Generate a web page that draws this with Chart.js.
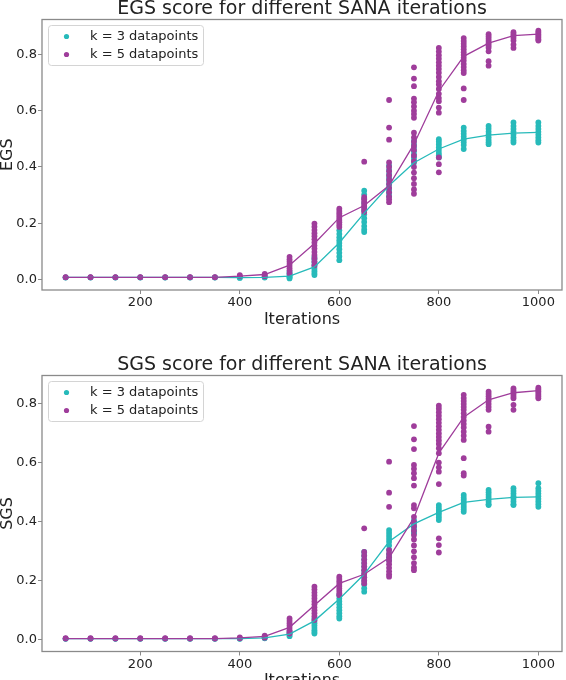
<!DOCTYPE html>
<html>
<head>
<meta charset="utf-8">
<script src="https://cdn.jsdelivr.net/npm/chart.js@4"></script>
<style>
html,body{margin:0;padding:0;background:#fff;overflow:hidden;}
#wrap{position:relative;width:566px;height:680px;overflow:hidden;}
canvas{position:absolute;left:0;}
#egs{top:0;}
#sgs{top:340px;}
</style>
</head>
<body>
<div id="wrap">
<canvas id="egs" width="566" height="340"></canvas>
<canvas id="sgs" width="566" height="360"></canvas>
</div>
<script>
// SANA iterations on the x axis
const iterations = [50,100,150,200,250,300,350,400,450,500,550,600,650,700,750,800,850,900,950,1000];
const xTicks = [200,400,600,800,1000];
const yTicks = [0,0.2,0.4,0.6,0.8];
const seriesLabels = ['k = 3 datapoints','k = 5 datapoints'];

// EGS, one list of runs per iteration
const egsK3 = [
  [0.008,0.007],[0.008,0.007],[0.008,0.007],[0.008,0.007],[0.008,0.007],[0.008,0.007],[0.008,0.007],
  [0.007,0.006],
  [0.009,0.007],
  [0.028,0.022,0.016,0.012,0.008,0.004],
  [0.081,0.072,0.062,0.052,0.045,0.038,0.030,0.022,0.016],
  [0.175,0.162,0.150,0.140,0.130,0.120,0.108,0.095,0.082,0.069],
  [0.316,0.302,0.288,0.272,0.258,0.245,0.232,0.218,0.205,0.190,0.178,0.169],
  [0.405,0.390,0.375,0.362,0.350,0.338,0.326,0.316,0.305,0.295],
  [0.493,0.480,0.468,0.456,0.445,0.434,0.425,0.415],
  [0.499,0.490,0.480,0.470,0.460,0.450,0.442,0.434],
  [0.540,0.528,0.518,0.508,0.498,0.488,0.478,0.464],
  [0.546,0.536,0.526,0.516,0.506,0.496,0.488,0.481],
  [0.558,0.546,0.535,0.525,0.515,0.505,0.495,0.487],
  [0.558,0.546,0.535,0.525,0.515,0.505,0.495,0.487]
];
const egsK5 = [
  [0.009,0.008],[0.009,0.008],[0.009,0.008],[0.009,0.008],[0.009,0.008],[0.009,0.008],[0.009,0.008],
  [0.016,0.012],
  [0.020,0.016,0.012],
  [0.081,0.072,0.064,0.056,0.048,0.040,0.032,0.022],
  [0.199,0.188,0.176,0.165,0.154,0.143,0.132,0.121,0.110,0.098,0.087,0.076,0.064,0.051],
  [0.252,0.244,0.236,0.228,0.220,0.212,0.204,0.195,0.187],
  [0.419,0.293,0.285,0.277,0.269,0.261,0.254,0.247,0.240],
  [0.638,0.540,0.497,0.416,0.400,0.385,0.370,0.355,0.340,0.325,0.310,0.295,0.285,0.275],
  [0.754,0.714,0.687,0.643,0.630,0.615,0.600,0.588,0.575,0.522,0.505,0.490,0.475,0.460,0.440,0.420,0.400,0.380,0.360,0.340,0.320,0.305],
  [0.823,0.810,0.797,0.785,0.772,0.760,0.748,0.735,0.720,0.705,0.693,0.677,0.660,0.645,0.634,0.611,0.593,0.434,0.410,0.381],
  [0.858,0.848,0.838,0.828,0.818,0.808,0.798,0.788,0.778,0.766,0.755,0.744,0.734,0.679,0.638],
  [0.872,0.864,0.856,0.848,0.840,0.832,0.824,0.811,0.776,0.760],
  [0.879,0.872,0.865,0.858,0.849,0.835,0.823],
  [0.884,0.878,0.872,0.866,0.860,0.854,0.849]
];
const egsMeanK3 = [0.008,0.008,0.008,0.008,0.008,0.008,0.008,0.007,0.008,0.012,0.045,0.131,0.236,0.334,0.415,0.464,0.499,0.513,0.520,0.523];
const egsMeanK5 = [0.008,0.008,0.008,0.008,0.008,0.008,0.008,0.012,0.018,0.051,0.128,0.220,0.263,0.334,0.481,0.670,0.793,0.840,0.867,0.872];

// SGS
const sgsK3 = [
  [0.004,0.003],[0.004,0.003],[0.004,0.003],[0.004,0.003],[0.004,0.003],[0.004,0.003],[0.004,0.003],
  [0.004,0.003],
  [0.007,0.005],
  [0.027,0.022,0.017,0.012],
  [0.072,0.064,0.056,0.048,0.040,0.032,0.026,0.021],
  [0.151,0.140,0.130,0.120,0.110,0.100,0.090,0.080,0.072],
  [0.298,0.285,0.272,0.260,0.248,0.236,0.224,0.212,0.200,0.188,0.175,0.163],
  [0.372,0.362,0.352,0.342,0.332,0.320,0.305,0.290,0.280,0.270],
  [0.406,0.398,0.390,0.382,0.374,0.366,0.361],
  [0.457,0.448,0.440,0.432,0.424,0.415,0.406],
  [0.491,0.482,0.474,0.466,0.458,0.450,0.442,0.434],
  [0.508,0.500,0.492,0.484,0.476,0.468,0.460,0.457],
  [0.514,0.505,0.496,0.487,0.478,0.469,0.460,0.457],
  [0.531,0.514,0.505,0.496,0.487,0.478,0.469,0.460,0.451]
];
const sgsK5 = [
  [0.005,0.004],[0.005,0.004],[0.005,0.004],[0.005,0.004],[0.005,0.004],[0.005,0.004],[0.005,0.004],
  [0.008,0.005],
  [0.014,0.010,0.007],
  [0.072,0.064,0.056,0.048,0.040,0.032,0.026,0.021],
  [0.180,0.170,0.160,0.150,0.140,0.130,0.120,0.110,0.100,0.090,0.080,0.067],
  [0.214,0.206,0.198,0.190,0.182,0.174,0.166,0.158,0.151],
  [0.378,0.298,0.285,0.272,0.260,0.248,0.236,0.224,0.212,0.200,0.191],
  [0.604,0.499,0.451,0.304,0.292,0.280,0.268,0.256,0.244,0.232,0.222,0.214],
  [0.725,0.680,0.647,0.593,0.580,0.565,0.548,0.523,0.457,0.446,0.417,0.400,0.385,0.370,0.355,0.340,0.320,0.300,0.280,0.260,0.245,0.236],
  [0.794,0.784,0.772,0.760,0.748,0.736,0.724,0.712,0.700,0.688,0.676,0.664,0.650,0.633,0.601,0.585,0.570,0.528,0.344,0.321,0.296],
  [0.831,0.820,0.810,0.800,0.790,0.780,0.768,0.756,0.744,0.732,0.720,0.706,0.692,0.678,0.616,0.565,0.557],
  [0.842,0.834,0.826,0.818,0.810,0.800,0.790,0.780,0.723,0.706],
  [0.853,0.846,0.839,0.832,0.825,0.819,0.797,0.780],
  [0.855,0.849,0.843,0.837,0.831,0.825,0.819]
];
const sgsMeanK3 = [0.004,0.004,0.004,0.004,0.004,0.004,0.004,0.004,0.006,0.019,0.064,0.138,0.222,0.333,0.393,0.432,0.466,0.476,0.483,0.485];
const sgsMeanK5 = [0.004,0.004,0.004,0.004,0.004,0.004,0.004,0.006,0.011,0.042,0.117,0.191,0.222,0.278,0.414,0.633,0.755,0.814,0.838,0.845];

const TEAL = '#27baba';
const PURPLE = '#9f3d9b';
const INK = '#222222';
const FRAME = '#8a8a8a';
const FONT = '"DejaVu Sans", sans-serif';

// spines all round, drawn over the data like matplotlib
const framePlugin = {
  id: 'frame',
  afterDatasetsDraw(chart){
    const {ctx, chartArea:a} = chart;
    ctx.save();
    ctx.strokeStyle = FRAME; ctx.lineWidth = 1.3;
    ctx.strokeRect(a.left, a.top, a.right - a.left, a.bottom - a.top);
    ctx.restore();
  }
};

// boxed legend in the upper left corner
const boxLegend = {
  id: 'boxLegend',
  afterDraw(chart){
    const {ctx, chartArea:a} = chart;
    const x = a.left + 6.5, y = a.top + 6, w = 155, h = 40;
    ctx.save();
    ctx.beginPath();
    ctx.roundRect(x, y, w, h, 3);
    ctx.fillStyle = 'rgba(255,255,255,0.8)'; ctx.fill();
    ctx.strokeStyle = '#d4d4d4'; ctx.lineWidth = 1; ctx.stroke();
    ctx.font = '13px ' + FONT; ctx.textBaseline = 'middle'; ctx.textAlign = 'left';
    chart.data.datasets.slice(0, 2).forEach((ds, i) => {
      const ry = y + 11 + i * 18;
      ctx.beginPath(); ctx.arc(x + 18, ry, 2.6, 0, Math.PI * 2);
      ctx.fillStyle = ds.backgroundColor; ctx.fill();
      ctx.fillStyle = INK; ctx.fillText(ds.label, x + 41.5, ry);
    });
    ctx.restore();
  }
};

function makeChart(id, title, yLabel, k3, k5, m3, m5, yMin, yMax, padTop, padBottom){
  const pts = cols => iterations.flatMap((x, i) => cols[i].map(y => ({x, y})));
  const line = m => iterations.map((x, i) => ({x, y: m[i]}));
  return new Chart(document.getElementById(id), {
    type: 'scatter',
    data: { datasets: [
      { label: seriesLabels[0], data: pts(k3), backgroundColor: TEAL, borderWidth: 0, pointRadius: 2.9, order: 3 },
      { label: seriesLabels[1], data: pts(k5), backgroundColor: PURPLE, borderWidth: 0, pointRadius: 2.9, order: 2 },
      { type: 'line', label: 'mean k3', data: line(m3), borderColor: TEAL, borderWidth: 1.3, pointRadius: 0, fill: false, tension: 0, order: 1 },
      { type: 'line', label: 'mean k5', data: line(m5), borderColor: PURPLE, borderWidth: 1.3, pointRadius: 0, fill: false, tension: 0, order: 0 }
    ]},
    options: {
      responsive: false, animation: false, events: [],
      layout: { padding: { left: 0, right: 3, top: padTop, bottom: padBottom } },
      plugins: {
        legend: { display: false }, tooltip: { enabled: false },
        title: { display: true, text: title, color: INK, fullSize: false,
          font: { family: FONT, size: 19, weight: 'normal', lineHeight: 1 }, padding: { top: 0, bottom: 0.5 } }
      },
      scales: {
        x: {
          type: 'linear', min: 2.5, max: 1047.5,
          afterBuildTicks: s => { s.ticks = xTicks.map(v => ({value: v})); },
          afterFit: s => { s.height = 39; },
          grid: { drawOnChartArea: false, drawTicks: true, tickLength: 4, color: FRAME },
          border: { display: false },
          ticks: { color: INK, font: { family: FONT, size: 13 }, padding: 1, maxRotation: 0, autoSkip: false, callback: v => String(v) },
          title: { display: true, text: 'Iterations', color: INK, font: { family: FONT, size: 16, lineHeight: 1.2 }, padding: 0 }
        },
        y: {
          min: yMin, max: yMax,
          afterBuildTicks: s => { s.ticks = yTicks.map(v => ({value: v})); },
          afterFit: s => { s.width = 42; },
          grid: { drawOnChartArea: false, drawTicks: true, tickLength: 4, color: FRAME },
          border: { display: false },
          ticks: { color: INK, font: { family: FONT, size: 13 }, padding: 1, callback: v => v.toFixed(1) },
          title: { display: true, text: yLabel, color: INK, font: { family: FONT, size: 16, lineHeight: 1 }, padding: 0 }
        }
      }
    },
    plugins: [framePlugin, boxLegend]
  });
}

makeChart('egs', 'EGS score for different SANA iterations', 'EGS', egsK3, egsK5, egsMeanK3, egsMeanK5, -0.037, 0.924, 0, 11);
makeChart('sgs', 'SGS score for different SANA iterations', 'SGS', sgsK3, sgsK5, sgsMeanK3, sgsMeanK5, -0.040, 0.8965, 16, 9.5);
</script>
</body>
</html>
